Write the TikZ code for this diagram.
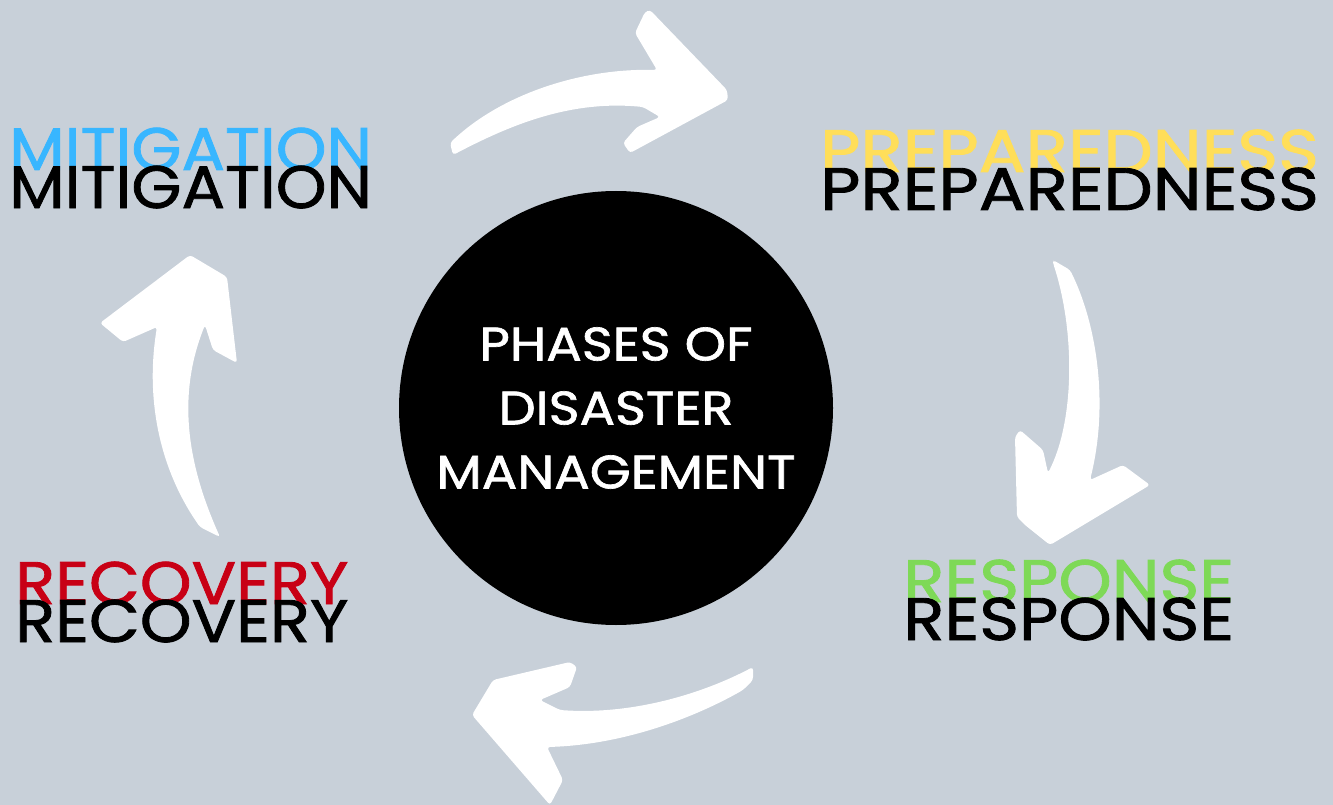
\documentclass[tikz,border=0pt]{standalone}
\usepackage{fontspec}
\setmainfont{Poppins}[FakeStretch=1.12, FakeBold=1.4]
\usetikzlibrary{positioning}

\definecolor{bgcol}{RGB}{200,208,217}
\definecolor{mitcol}{RGB}{56,182,255}
\definecolor{precol}{RGB}{255,222,89}
\definecolor{rescol}{RGB}{126,217,87}
\definecolor{reccol}{RGB}{200,0,21}

\begin{document}
\begin{tikzpicture}[x=1pt, y=-1pt,
    phase/.style={anchor=base west, inner sep=0pt, font=\fontsize{60}{60}\selectfont},
    hub/.style={circle, fill=black, minimum size=434pt, inner sep=0pt,
      text=white, align=center, font=\fontsize{47}{64}\selectfont},
    swoosh/.style={fill=white, rounded corners=3pt}]

  \fill[bgcol] (0,0) rectangle (1333,805);

  \node[hub] (hub) at (616,408) {PHASES OF\\DISASTER\\MANAGEMENT};

  % coloured word, black copy just below it
  \foreach \name/\word/\col/\x/\y/\sx in {mitigation/MITIGATION/mitcol/9/170/0.96,
      preparedness/PREPAREDNESS/precol/820/172/1.035,
      response/RESPONSE/rescol/903/602/1.01,
      recovery/RECOVERY/reccol/15/604/0.98} {
    \node[phase, text=\col] (\name-hue) at (\x,\y) {\scalebox{\sx}[1]{\word}};
    \node[phase] (\name) at (\x,\y+38) {\scalebox{\sx}[1]{\word}};
  };

  % hand drawn arrows
  \fill[swoosh] (453,155) .. controls (510,125) and (570,100) .. (643,107)
    -- (660,117) -- (637,127) -- (623,143) -- (630,153) -- (728,100)
    -- (727,90) -- (650,10) -- (645,12) -- (635,33) -- (657,70)
    .. controls (580,68) and (500,95) .. (450,143) -- cycle;
  \fill[swoosh] (1053,260) -- (1070,270) .. controls (1095,320) and (1110,400) .. (1090,480)
    -- (1123,465) -- (1150,485) -- (1050,545) -- (1025,525) -- (1017,517)
    -- (1015,437) -- (1020,430) -- (1043,450) -- (1048,473)
    .. controls (1075,420) and (1075,330) .. (1053,263) -- cycle;
  \fill[swoosh] (753,667) .. controls (700,695) and (630,715) .. (560,710)
    -- (540,700) -- (570,687) -- (577,667) -- (570,662) -- (493,680)
    -- (472,715) -- (550,805) -- (563,780) -- (547,747)
    .. controls (620,745) and (690,720) .. (743,690) -- (753,680) -- cycle;
  \fill[swoosh] (220,537) .. controls (190,470) and (175,400) .. (205,325)
    -- (213,350) -- (237,363) -- (227,277) -- (190,255) -- (100,323)
    -- (123,342) -- (157,327) .. controls (145,400) and (160,470) .. (200,527) -- cycle;
\end{tikzpicture}
\end{document}
